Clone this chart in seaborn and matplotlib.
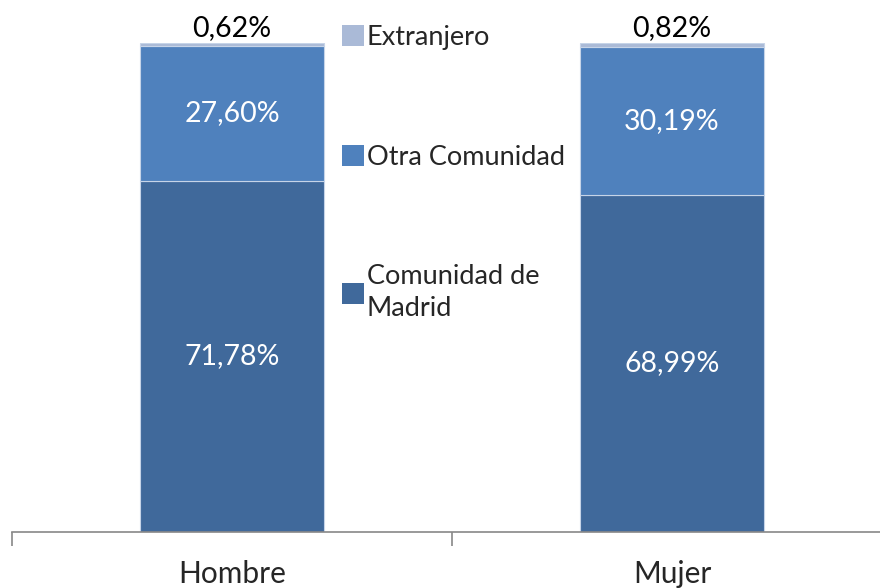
import pandas as pd
import matplotlib.pyplot as plt
import seaborn as sns
from matplotlib.patches import Patch

categories = ["Hombre", "Mujer"]
madrid = [71.78, 68.99]
otra = [27.60, 30.19]
extranjero = [0.62, 0.82]

series_names = ["Comunidad de\nMadrid", "Otra Comunidad", "Extranjero"]
colors = ["#40699b", "#4f81bd", "#aabad7"]

sns.set_theme(style="white")
plt.rcParams["font.family"] = ["Lato", "DejaVu Sans"]

df = pd.DataFrame({"sexo": categories, "madrid": madrid, "otra": otra, "extranjero": extranjero})

fig = plt.figure(figsize=(8.8, 5.88), dpi=100)
ax = fig.add_axes([12 / 880, 56 / 588, 868 / 880, 489 / 588])

bottom = [0, 0]
for col, color in zip(["madrid", "otra", "extranjero"], colors):
    sns.barplot(data=df, x="sexo", y=col, color=color, width=0.416, bottom=bottom,
                edgecolor="#c6d4e8", linewidth=0.8, ax=ax, saturation=1)
    bottom = [b + v for b, v in zip(bottom, df[col])]

ax.set_xlabel("")
ax.set_ylabel("")
ax.set_yticks([])

# etiquetas de datos
for i in range(len(categories)):
    ax.text(i, madrid[i] / 2, f"{madrid[i]:.2f}%".replace(".", ","), ha="center", va="center",
            color="white", fontsize=20.5)
    ax.text(i, madrid[i] + otra[i] / 2, f"{otra[i]:.2f}%".replace(".", ","), ha="center",
            va="center", color="white", fontsize=20.5)
    ax.text(i, 100.4, f"{extranjero[i]:.2f}%".replace(".", ","), ha="center", va="bottom",
            color="black", fontsize=20.5, clip_on=False)

for s in ["top", "right", "left"]:
    ax.spines[s].set_visible(False)
ax.spines["bottom"].set_color("#888888")
ax.spines["bottom"].set_linewidth(1.2)

ax.set_xticks([0, 1])
ax.set_xticklabels(categories, fontsize=21.5)
ax.tick_params(axis="x", which="major", length=0, pad=20)
ax.set_xticks([-0.5, 0.5], minor=True)
ax.tick_params(axis="x", which="minor", length=10, width=1.2, color="#888888", bottom=True)

ax.set_xlim(-0.5, 1.5 - 12 / 440)
ax.set_ylim(0, 100)

handles = [Patch(facecolor=c, edgecolor="none") for c in colors[::-1]]
fig.legend(handles, series_names[::-1], loc="upper left", bbox_to_anchor=(331 / 880, 1 - 14 / 588),
           frameon=False, fontsize=19.5, labelspacing=3.5, handlelength=0.8, handleheight=0.8,
           handletextpad=0.12, borderaxespad=0)
for t in fig.legends[0].get_texts():
    t.set_linespacing(1.35)

fig.savefig("out.png", dpi=100)
